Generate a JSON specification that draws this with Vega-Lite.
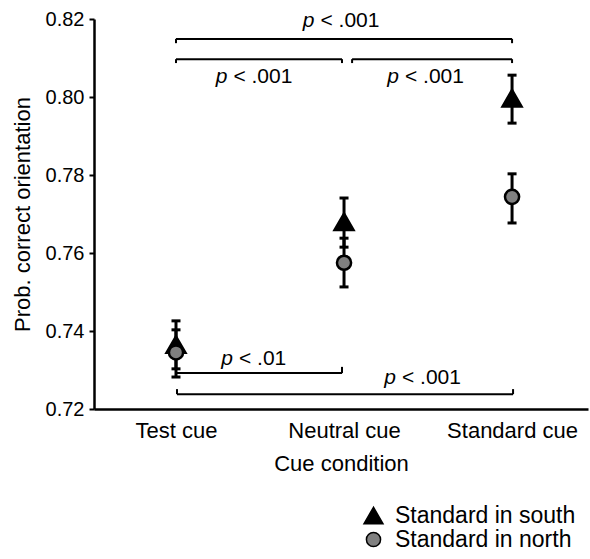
{
  "$schema": "https://vega.github.io/schema/vega-lite/v6.json",
  "width": 494,
  "height": 390,
  "autosize": {"type": "none"},
  "padding": {"left": 94, "top": 19, "right": 2, "bottom": 150},
  "background": "white",
  "config": {
    "view": {"stroke": null},
    "font": "Liberation Sans",
    "axis": {"grid": false, "domainColor": "black", "tickColor": "black", "labelColor": "black", "titleColor": "black", "titleFontWeight": "normal", "labelFont": "Liberation Sans", "titleFont": "Liberation Sans"},
    "legend": {"padding": 0}
  },
  "datasets": {
    "pts": [
      {"cue": 1, "cond": "Standard in south", "prob": 0.7365, "lo": 0.7303, "hi": 0.7426},
      {"cue": 2, "cond": "Standard in south", "prob": 0.768, "lo": 0.7615, "hi": 0.7741},
      {"cue": 3, "cond": "Standard in south", "prob": 0.7997, "lo": 0.7933, "hi": 0.8056},
      {"cue": 1, "cond": "Standard in north", "prob": 0.7345, "lo": 0.7282, "hi": 0.7403},
      {"cue": 2, "cond": "Standard in north", "prob": 0.7575, "lo": 0.7513, "hi": 0.7638},
      {"cue": 3, "cond": "Standard in north", "prob": 0.7744, "lo": 0.7677, "hi": 0.7803}
    ],
    "segs": [
      {"cue": 1, "cue2": 3, "prob": 0.8149, "prob2": 0.8149},
      {"cue": 1, "cue2": 1, "prob": 0.8149, "prob2": 0.8138},
      {"cue": 3, "cue2": 3, "prob": 0.8149, "prob2": 0.8138},
      {"cue": 1, "cue2": 1.988, "prob": 0.8097, "prob2": 0.8097},
      {"cue": 1, "cue2": 1, "prob": 0.8097, "prob2": 0.8087},
      {"cue": 1.988, "cue2": 1.988, "prob": 0.8097, "prob2": 0.8087},
      {"cue": 2.048, "cue2": 3, "prob": 0.8097, "prob2": 0.8097},
      {"cue": 2.048, "cue2": 2.048, "prob": 0.8097, "prob2": 0.8087},
      {"cue": 3, "cue2": 3, "prob": 0.8097, "prob2": 0.8087},
      {"cue": 1.006, "cue2": 1.988, "prob": 0.7292, "prob2": 0.7292},
      {"cue": 1.988, "cue2": 1.988, "prob": 0.7292, "prob2": 0.7308},
      {"cue": 1.006, "cue2": 3.006, "prob": 0.7238, "prob2": 0.7238},
      {"cue": 1.006, "cue2": 1.006, "prob": 0.7238, "prob2": 0.7251},
      {"cue": 3.006, "cue2": 3.006, "prob": 0.7238, "prob2": 0.7251}
    ],
    "labs": [
      {"cue": 1.842, "prob": 0.8195, "txt": "< .001"},
      {"cue": 1.324, "prob": 0.8051, "txt": "< .001"},
      {"cue": 2.345, "prob": 0.8051, "txt": "< .001"},
      {"cue": 1.357, "prob": 0.7328, "txt": "< .01"},
      {"cue": 2.327, "prob": 0.7279, "txt": "< .001"}
    ]
  },
  "encoding": {
    "x": {
      "field": "cue", "type": "quantitative",
      "scale": {"domain": [0.512, 3.452], "nice": false, "zero": false},
      "title": "Cue condition",
      "axis": {"values": [1, 2, 3], "labelExpr": "datum.value == 1 ? 'Test cue' : datum.value == 2 ? 'Neutral cue' : 'Standard cue'", "ticks": false, "labelFontSize": 22, "labelPadding": 11, "domainWidth": 2.5, "titleFontSize": 22, "titlePadding": 12, "labelFlush": false, "labelOverlap": false}
    },
    "y": {
      "field": "prob", "type": "quantitative",
      "scale": {"domain": [0.72, 0.82], "nice": false, "zero": false},
      "title": "Prob. correct orientation",
      "axis": {"values": [0.72, 0.74, 0.76, 0.78, 0.8, 0.82], "format": ".2f", "tickSize": 5, "tickWidth": 2, "domainWidth": 2.5, "labelFontSize": 20, "labelPadding": 5, "titleFontSize": 22, "titlePadding": 11, "labelFlush": false, "labelOverlap": false}
    }
  },
  "layer": [
    {
      "data": {"name": "segs"},
      "mark": {"type": "rule", "strokeWidth": 2, "color": "black"},
      "encoding": {"x2": {"field": "cue2"}, "y2": {"field": "prob2"}}
    },
    {
      "data": {"name": "pts"},
      "mark": {"type": "rule", "strokeWidth": 3, "color": "black"},
      "encoding": {
        "y": {"field": "lo", "type": "quantitative", "scale": {"domain": [0.72, 0.82], "nice": false, "zero": false}, "title": "Prob. correct orientation"},
        "y2": {"field": "hi"}
      }
    },
    {
      "data": {"name": "pts"},
      "mark": {"type": "tick", "orient": "horizontal", "size": 9, "thickness": 3, "color": "black", "opacity": 1},
      "encoding": {
        "y": {"field": "lo", "type": "quantitative", "scale": {"domain": [0.72, 0.82], "nice": false, "zero": false}, "title": "Prob. correct orientation"}
      }
    },
    {
      "data": {"name": "pts"},
      "mark": {"type": "tick", "orient": "horizontal", "size": 9, "thickness": 3, "color": "black", "opacity": 1},
      "encoding": {
        "y": {"field": "hi", "type": "quantitative", "scale": {"domain": [0.72, 0.82], "nice": false, "zero": false}, "title": "Prob. correct orientation"}
      }
    },
    {
      "data": {"name": "pts"},
      "mark": {"type": "point", "filled": true, "stroke": "black", "strokeWidth": 2.5, "opacity": 1},
      "encoding": {
        "shape": {"field": "cond", "type": "nominal", "scale": {"domain": ["Standard in south", "Standard in north"], "range": ["triangle-up", "circle"]},
          "legend": {"orient": "none", "legendX": 268, "legendY": 485, "title": null, "labelFontSize": 23, "labelOffset": 10, "labelLimit": 0, "rowPadding": 0, "labelColor": "black",
            "encode": {"symbols": {"update": {"stroke": {"value": "black"}, "strokeWidth": {"value": 2.5}, "opacity": {"value": 1}}}}}},
        "fill": {"field": "cond", "type": "nominal", "scale": {"domain": ["Standard in south", "Standard in north"], "range": ["black", "#808080"]},
          "legend": {"orient": "none", "legendX": 268, "legendY": 485, "title": null, "labelFontSize": 23, "labelOffset": 10, "labelLimit": 0, "rowPadding": 0, "labelColor": "black",
            "encode": {"symbols": {"update": {"stroke": {"value": "black"}, "strokeWidth": {"value": 2.5}, "opacity": {"value": 1}}}}}},
        "size": {"field": "cond", "type": "nominal", "scale": {"domain": ["Standard in south", "Standard in north"], "range": [360, 200]},
          "legend": {"orient": "none", "legendX": 268, "legendY": 485, "title": null, "labelFontSize": 23, "labelOffset": 10, "labelLimit": 0, "rowPadding": 0, "labelColor": "black",
            "encode": {"symbols": {"update": {"stroke": {"value": "black"}, "strokeWidth": {"value": 2.5}, "opacity": {"value": 1}}}}}}
      }
    },
    {
      "data": {"name": "labs"},
      "mark": {"type": "text", "align": "right", "baseline": "middle", "dx": -3, "fontSize": 21, "fontStyle": "italic", "color": "black", "font": "Liberation Sans"},
      "encoding": {"text": {"value": "p"}}
    },
    {
      "data": {"name": "labs"},
      "mark": {"type": "text", "align": "left", "baseline": "middle", "dx": 3, "fontSize": 21, "color": "black", "font": "Liberation Sans"},
      "encoding": {"text": {"field": "txt"}}
    }
  ]
}
